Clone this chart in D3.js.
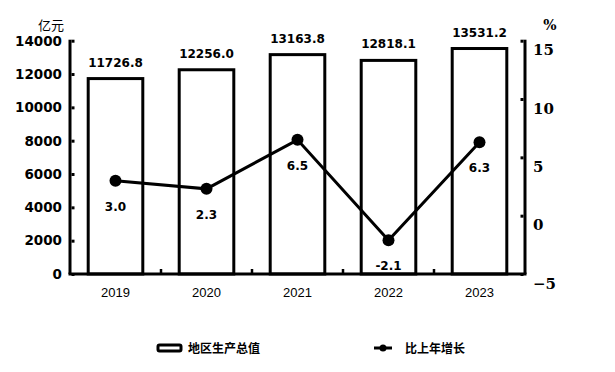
<!DOCTYPE html>
<html><head><meta charset="utf-8">
<script src="https://cdn.jsdelivr.net/npm/d3@7"></script>
<style>body{margin:0;background:#fff}svg{display:block}</style>
</head><body>
<svg id="c" width="615" height="372"></svg>
<script>
const years = ["2019","2020","2021","2022","2023"];
const gdp = [11726.8, 12256.0, 13163.8, 12818.1, 13531.2];
const growth = [3.0, 2.3, 6.5, -2.1, 6.3];
const leftTicks = [0,2000,4000,6000,8000,10000,12000,14000];
const rightTicks = [-5,0,5,10,15];
const legendLabels = ["地区生产总值","比上年增长"];
const units = ["亿元","%"];

const svg = d3.select("#c");
const L = 70, R = 525, T = 40.7, B = 274;
const x = d3.scaleBand().domain(years).range([L, R]).paddingInner(0.4).paddingOuter(0.2);
const xc = d => x(d) + x.bandwidth()/2;
const yL = d3.scaleLinear().domain([0,14000]).range([B, T]);
const yR = d3.scaleLinear().domain([-5,15]).range([B, T]);
const sans = "'DejaVu Sans', sans-serif";

// bars
svg.append("g").selectAll("rect").data(years).join("rect")
  .attr("x", d => x(d)).attr("width", x.bandwidth())
  .attr("y", (d,i) => yL(gdp[i])).attr("height", (d,i) => B - yL(gdp[i]))
  .attr("fill", "#fff").attr("stroke", "#000").attr("stroke-width", 3);

svg.append("g").selectAll("text").data(years).join("text")
  .attr("x", d => xc(d)).attr("y", (d,i) => yL(gdp[i]) - 12)
  .attr("text-anchor","middle").attr("font-family", sans).attr("font-weight","bold")
  .attr("font-size", 12).text((d,i) => gdp[i].toFixed(1));

// left axis
const gL = svg.append("g").attr("transform", `translate(${L},0)`)
  .call(d3.axisLeft(yL).tickValues(leftTicks).tickSize(-4).tickPadding(12).tickFormat(d3.format("d")));
gL.select(".domain").attr("stroke-width",3).attr("d", `M0,${T-1}V${B}`);
gL.selectAll(".tick line").attr("stroke-width",3).attr("x1",1.5).attr("x2",4.5);
gL.selectAll("text").attr("font-family", sans).attr("font-weight","bold").attr("font-size",13.5).attr("x",-8);

// right axis
const gR = svg.append("g").attr("transform", `translate(${R},0)`)
  .call(d3.axisRight(yR).tickValues(rightTicks).tickSize(-4).tickFormat(d3.format("d")));
gR.select(".domain").attr("stroke-width",3).attr("d", `M0,${T-1}V${B}`);
gR.selectAll(".tick line").attr("stroke-width",3).attr("x1",-1.5).attr("x2",-4.5);
gR.selectAll("text").attr("font-family","'DejaVu Serif', serif").attr("font-weight","bold")
  .attr("font-size",15).attr("x",8).attr("dy","0.95em").attr("text-anchor","start");

// bottom axis
const gB = svg.append("g").attr("transform", `translate(0,${B})`)
  .call(d3.axisBottom(x).tickSize(0).tickPadding(14));
gB.select(".domain").attr("stroke-width",3).attr("d", `M${L-1.5},0H${R+1.5}`);
gB.selectAll("text").attr("font-family","'Liberation Sans', Arial, sans-serif").attr("font-size",13);
svg.append("g").selectAll("line").data(years.slice(1)).join("line")
  .attr("x1", d => x(d) - x.step()*x.paddingInner()/2).attr("x2", d => x(d) - x.step()*x.paddingInner()/2)
  .attr("y1", B).attr("y2", B-5).attr("stroke","#000").attr("stroke-width",2.5);

// line
const line = d3.line().x((d,i) => xc(years[i])).y(d => yR(d));
svg.append("path").datum(growth).attr("d", line).attr("fill","none").attr("stroke","#000").attr("stroke-width",3);
svg.append("g").selectAll("circle").data(growth).join("circle")
  .attr("cx", (d,i) => xc(years[i])).attr("cy", d => yR(d)).attr("r", 6).attr("fill","#000");
svg.append("g").selectAll("text").data(growth).join("text")
  .attr("x", (d,i) => xc(years[i])).attr("y", d => yR(d) + 30)
  .attr("text-anchor","middle").attr("font-family", sans).attr("font-weight","bold")
  .attr("font-size", 12).text(d => d.toFixed(1));

// units
svg.append("text").attr("x", 64).attr("y", 30).attr("text-anchor","end")
  .attr("font-family","'Noto Sans CJK SC', sans-serif").attr("font-size",13).text(units[0]);
svg.append("text").attr("x", 550).attr("y", 30).attr("text-anchor","middle")
  .attr("font-family","'DejaVu Serif', serif").attr("font-weight","bold").attr("font-size",14).text(units[1]);

// legend
const lg = svg.append("g");
lg.append("rect").attr("x",158).attr("y",345).attr("width",23).attr("height",6).attr("rx",1.5)
  .attr("fill","#fff").attr("stroke","#000").attr("stroke-width",3);
lg.append("text").attr("x",188).attr("y",353).attr("font-family","'Noto Sans CJK SC', sans-serif")
  .attr("font-weight","bold").attr("font-size",12).text(legendLabels[0]);
lg.append("line").attr("x1",374).attr("x2",392).attr("y1",348).attr("y2",348).attr("stroke","#000").attr("stroke-width",3);
lg.append("circle").attr("cx",383).attr("cy",348).attr("r",3.5).attr("fill","#000");
lg.append("text").attr("x",405).attr("y",353).attr("font-family","'Noto Sans CJK SC', sans-serif")
  .attr("font-weight","bold").attr("font-size",12).text(legendLabels[1]);
</script>
</body></html>
